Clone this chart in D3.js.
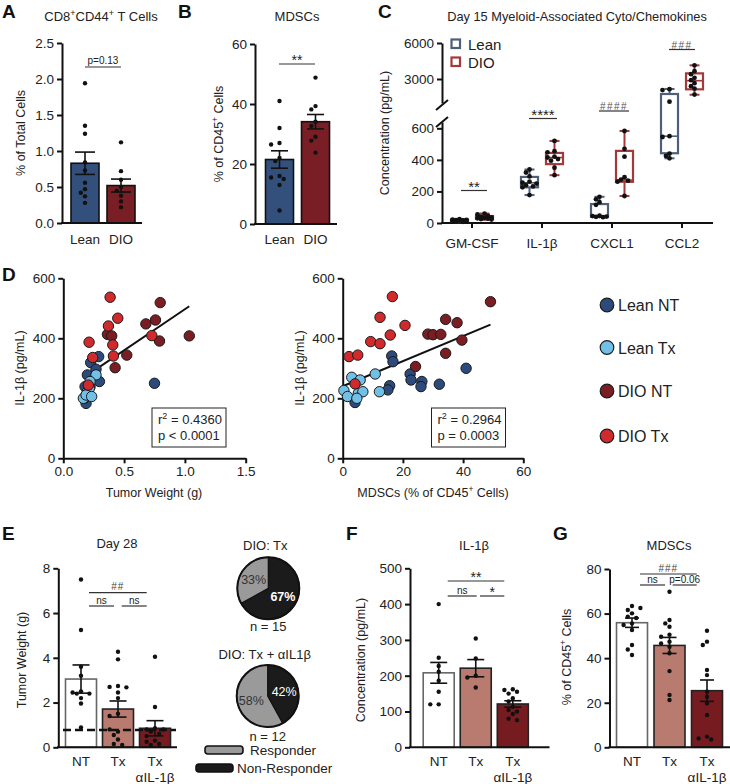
<!DOCTYPE html>
<html><head><meta charset="utf-8">
<script src="https://cdn.jsdelivr.net/npm/d3@7"></script>
<style>
body{margin:0;background:#fff}
svg{font-family:Arial,"Liberation Sans",Helvetica,sans-serif}
</style></head><body>
<svg id="fig" width="730" height="784"></svg>
<script>
// ---------------- DATA ----------------
const groupsAB = ["Lean", "DIO"];
const cd8Lean = [1.94, 1.35, 1.24, 0.84, 0.73, 0.56, 0.47, 0.42, 0.37, 0.28];
const cd8DIO = [1.12, 0.72, 0.6, 0.5, 0.45, 0.38, 0.3, 0.22];
const cd8Means = [0.83, 0.52];
const cd8Sem = [0.155, 0.09];
const mdscLean = [41, 32, 27, 26.5, 22, 21, 16, 15.5, 15, 13, 4.5];
const mdscDIO = [48.8, 39.3, 38.2, 34.1, 32.7, 29.1, 27.8, 23.8];
const mdscMeans = [21.5, 34.1];
const mdscSem = [2.9, 2.4];

const cytoCategories = ["GM-CSF", "IL-1β", "CXCL1", "CCL2"];
// box stats: [min, q1, median, q3, max]
const cytoLeanBox = [[5, 12, 16, 21, 25], [177, 226, 255, 292, 339], [37, 40, 43, 120, 166], [410, 442, 550, 1750, 2170]];
const cytoDIOBox = [[20, 27, 34, 44, 60], [303, 373, 415, 444, 520], [171, 261, 272, 457, 583], [1690, 2140, 2860, 3470, 4140]];
const cytoLeanPts = [
  [24, 22, 20, 18, 16, 15, 13, 12, 10, 8],
  [339, 320, 295, 262, 255, 250, 240, 232, 226, 177],
  [166, 150, 132, 115, 46, 44, 41, 39, 37],
  [2150, 2080, 1110, 550, 545, 440, 425, 410]];
const cytoDIOPts = [
  [60, 55, 45, 40, 36, 33, 30, 28, 25, 22],
  [520, 455, 448, 420, 415, 405, 395, 350, 303],
  [583, 470, 420, 290, 275, 268, 262, 171],
  [4140, 3650, 3400, 3100, 2900, 2650, 2400, 2200, 1700]];
const cytoSig = ["**", "****", "####", "###"];
const cytoLowerTicks = [0, 200, 400, 600];
const cytoUpperTicks = [3000, 6000];

// Panel D: [tumor weight (g), IL-1β (pg/mL)]
const twLeanNT = [[0.75, 250], [0.291, 339], [0.225, 319], [0.269, 297], [0.297, 256], [0.198, 278], [0.179, 239], [0.187, 183], [0.173, 200], [0.22, 239]];
const twLeanTx = [[0.269, 278], [0.22, 256], [0.198, 222], [0.165, 200], [0.214, 233], [0.187, 211], [0.233, 206]];
const twDIONT = [[0.797, 519], [1.036, 408], [0.679, 448], [0.758, 461], [0.791, 391], [0.363, 413], [0.398, 408], [0.522, 344], [0.426, 302]];
const twDIOTx = [[0.385, 537], [0.448, 467], [0.371, 441], [0.212, 387], [0.407, 378], [0.412, 341], [0.242, 336], [0.728, 409], [0.206, 244]];
// Panel D right: [MDSCs (% of CD45+), IL-1β (pg/mL)]
const mdLeanNT = [[16.3, 341], [16.7, 322], [41.0, 300], [22.4, 281], [22.7, 261], [26.3, 256], [26.0, 239], [32.1, 247], [15.6, 242], [15.0, 228], [4.1, 186]];
const mdLeanTx = [[10.8, 281], [3.0, 270], [5.8, 261], [0.4, 226], [1.6, 206], [5.2, 217], [6.7, 222], [4.7, 200], [12.2, 222]];
const mdDIONT = [[49.1, 522], [34.2, 463], [38.0, 452], [28.3, 414], [30.0, 412], [32.6, 413], [39.6, 394], [34.2, 350], [24.2, 306]];
const mdDIOTx = [[16.5, 539], [12.4, 470], [20.7, 443], [15.8, 411], [9.3, 389], [12.4, 382], [2.1, 339], [5.0, 344], [4.1, 248]];
const fitLeft = [223, 274];   // intercept, slope
const fitRight = [240, 4.19];
const statsLeft = ["0.4360", "p < 0.0001"];
const statsRight = ["0.2964", "p = 0.0003"];
const scatterGroups = ["Lean NT", "Lean Tx", "DIO NT", "DIO Tx"];

// Panel E/F/G
const treatGroups = ["NT", "Tx", "TxIL"];
const tumorNT = [7.5, 5.24, 3.6, 3.2, 2.5, 2.45, 2.4, 2.4, 2.2, 1.96, 0.89];
const tumorTx = [4.27, 3.93, 2.74, 2.7, 2.68, 2.45, 2.2, 1.5, 1.4, 0.7, 0.8, 0.55, 0.35, 0.15, 0.1];
const tumorTxIL = [4.05, 1.8, 0.85, 0.8, 0.8, 0.7, 0.6, 0.5, 0.3, 0.25, 0.15, 0.1];
const tumorMeans = [3.05, 1.71, 0.85];
const tumorSem = [0.63, 0.36, 0.34];
const responderCutoff = 0.77;
const il1bNT = [400, 250, 227, 211, 186, 155, 120, 120];
const il1bTx = [304, 248, 200, 195, 167];
const il1bTxIL = [162, 160, 155, 150, 137, 128, 113, 104, 100, 93, 80, 76];
const il1bMeans = [208, 221, 121];
const il1bSem = [29, 24, 9];
const gNT = [63.4, 61.6, 60.1, 58.6, 58.0, 55.6, 54.9, 52.6, 45.9, 43.9, 41.4, 62.5];
const gTx = [69.8, 57.1, 55.6, 54.1, 50.5, 49.6, 47.4, 46.6, 45.1, 42.2, 34.2, 23.5, 21.2];
const gTxIL = [52.3, 47.4, 45.9, 34.7, 32.4, 25, 22.7, 19.7, 14.5, 4.8, 4.0, 3.5];
const gMeans = [55.9, 45.7, 25.4];
const gSem = [2.1, 3.6, 4.8];
// pies: [Non-Responder, Responder]
const pieTx = [67, 33];
const pieTxIL = [42, 58];
const pieN = [15, 12];

// ---------------- DRAW ----------------
const svg = d3.select("#fig");
const FONT = 'Arial,"Liberation Sans",Helvetica,sans-serif';
const TXT = "#222";

function yAxis(scale, x, ticks, fmt, size = 13.5) {
  const g = svg.append("g").attr("transform", `translate(${x},0)`)
    .call(d3.axisLeft(scale).tickValues(ticks).tickFormat(fmt).tickSize(5).tickSizeOuter(0).tickPadding(3));
  g.attr("font-family", FONT).attr("font-size", size);
  g.select(".domain").attr("stroke-width", 2).attr("stroke", "#111");
  g.selectAll(".tick line").attr("stroke-width", 2).attr("stroke", "#111");
  g.selectAll(".tick text").attr("fill", TXT);
  return g;
}
function xLine(x0, x1, y) {
  svg.append("line").attr("x1", x0).attr("x2", x1).attr("y1", y).attr("y2", y).attr("stroke", "#111").attr("stroke-width", 2);
}
function xTicks(xs, y) {
  xs.forEach(x => svg.append("line").attr("x1", x).attr("x2", x).attr("y1", y).attr("y2", y + 5).attr("stroke", "#111").attr("stroke-width", 2));
}
function text(x, y, s, opt = {}) {
  const t = svg.append("text").attr("x", x).attr("y", y).text(s)
    .attr("font-size", opt.size || 13).attr("fill", opt.fill || TXT)
    .attr("text-anchor", opt.anchor || "middle").attr("font-family", FONT);
  if (opt.bold) t.attr("font-weight", "bold");
  if (opt.rotate) t.attr("transform", `rotate(-90,${x},${y})`);
  if (opt.ls) t.attr("letter-spacing", opt.ls);
  return t;
}
function panelLetter(x, y, s) { text(x, y, s, { size: 19, bold: true, anchor: "start", fill: "#111" }); }
function sigLine(x0, x1, y, label, size = 10.5, dy = -3, opts = {}) {
  svg.append("line").attr("x1", x0).attr("x2", x1).attr("y1", y).attr("y2", y).attr("stroke", "#333").attr("stroke-width", 1.2);
  text((x0 + x1) / 2, y + dy, label, Object.assign({ size }, opts));
}
// simple beeswarm: horizontal offsets for overlapping dots, limited to maxOff
function swarm(vals, yScale, cx, r, step, maxOff, sep) {
  const placed = [];
  const offs = [0];
  for (let k = 1; k * step <= maxOff + 0.01; k++) { offs.push(-k * step, k * step); }
  return vals.map(v => {
    const py = yScale(v);
    let best = offs[0], bestScore = Infinity;
    for (const off of offs) {
      const dmin = d3.min(placed, p => Math.hypot(p[0] - (cx + off), p[1] - py));
      if (dmin === undefined || dmin >= sep) { best = off; bestScore = -1; break; }
      if (-dmin < bestScore) { bestScore = -dmin; best = off; }
    }
    placed.push([cx + best, py]);
    return [cx + best, py];
  });
}
function barGroup(cx, w, yScale, mean, sem, pts, fill, stroke, cap) {
  const y0 = yScale(0);
  svg.append("rect").attr("x", cx - w / 2).attr("y", yScale(mean)).attr("width", w).attr("height", y0 - yScale(mean))
    .attr("fill", fill).attr("stroke", stroke).attr("stroke-width", 1.6);
  swarm(pts, yScale, cx, 2.2, 4.2, 12.6, 4.8).forEach(p => svg.append("circle").attr("cx", p[0]).attr("cy", p[1]).attr("r", 2.2).attr("fill", "#111"));
  const eb = svg.append("g").attr("stroke", "#111").attr("stroke-width", 1.6);
  eb.append("line").attr("x1", cx).attr("x2", cx).attr("y1", yScale(mean + sem)).attr("y2", yScale(mean - sem));
  [mean + sem, mean - sem].forEach(v => eb.append("line").attr("x1", cx - cap / 2).attr("x2", cx + cap / 2).attr("y1", yScale(v)).attr("y2", yScale(v)));
}

// ===== Panel A =====
panelLetter(2, 18, "A");
const tA = text(101, 21, "", { size: 13 });
tA.append("tspan").text("CD8");
tA.append("tspan").text("+").attr("font-size", 9).attr("dy", -5);
tA.append("tspan").text("CD44").attr("dy", 5);
tA.append("tspan").text("+").attr("font-size", 9).attr("dy", -5);
tA.append("tspan").text(" T Cells").attr("dy", 5);
const yA = d3.scaleLinear([0, 2.5], [223, 43]);
const xA = d3.scalePoint(groupsAB, [85, 121]);
yAxis(yA, 62, [0, 0.5, 1, 1.5, 2, 2.5], d3.format(".1f"));
barGroup(xA("Lean"), 28, yA, cd8Means[0], cd8Sem[0], cd8Lean, "#33507c", "#111", 20);
barGroup(xA("DIO"), 28, yA, cd8Means[1], cd8Sem[1], cd8DIO, "#7a1e25", "#111", 20);
xLine(61, 142, 223);
groupsAB.forEach(g => text(xA(g), 244, g, { size: 13.5 }));
text(25, 133, "% of Total Cells", { size: 12.5, rotate: true });
sigLine(85, 121, 67, "p=0.13", 10);

// ===== Panel B =====
panelLetter(178, 18, "B");
text(297, 21, "MDSCs", { size: 13 });
const yB = d3.scaleLinear([0, 60], [224, 44]);
const xB = d3.scalePoint(groupsAB, [279.5, 315.5]);
yAxis(yB, 255, [0, 20, 40, 60], d3.format("d"));
barGroup(xB("Lean"), 28, yB, mdscMeans[0], mdscSem[0], mdscLean, "#33507c", "#111", 17);
barGroup(xB("DIO"), 28, yB, mdscMeans[1], mdscSem[1], mdscDIO, "#7a1e25", "#111", 17);
xLine(254, 337, 224);
groupsAB.forEach(g => text(xB(g), 244, g, { size: 13.5 }));
const tB = text(223, 134, "", { size: 12.5, rotate: true });
tB.append("tspan").text("% of CD45");
tB.append("tspan").text("+").attr("font-size", 8.5).attr("dy", -5);
tB.append("tspan").text(" Cells").attr("dy", 5);
sigLine(279, 315, 64, "**", 14, 1);

// ===== Panel C =====
panelLetter(378, 18, "C");
text(577, 21, "Day 15 Myeloid-Associated Cyto/Chemokines", { size: 12.8 });
const yCl = d3.scaleLinear([0, 640], [223, 122]);
const yCu = d3.scaleLinear([1000, 6000], [103, 43]);
const yCgap = d3.scaleLinear([640, 1000], [122, 103]);
const yC = v => v <= 640 ? yCl(v) : (v >= 1000 ? yCu(v) : yCgap(v));
const xC = d3.scalePoint(cytoCategories, [472, 682]);
yAxis(yCl, 442, cytoLowerTicks, d3.format("d"));
yAxis(yCu, 442, cytoUpperTicks, d3.format("d"));
// axis break marks
svg.append("line").attr("x1", 436).attr("y1", 110).attr("x2", 448).attr("y2", 100).attr("stroke", "#111").attr("stroke-width", 2);
svg.append("line").attr("x1", 436).attr("y1", 127).attr("x2", 448).attr("y2", 117).attr("stroke", "#111").attr("stroke-width", 2);
xLine(441, 713, 223);
xTicks(cytoCategories.map(c => xC(c)), 223);
cytoCategories.forEach(c => text(xC(c), 248, c, { size: 13.5 }));
text(389, 133, "Concentration (pg/mL)", { size: 12.5, rotate: true });
function cbox(cx, st, pts, color) {
  const w = 17, g = svg.append("g");
  g.append("line").attr("x1", cx).attr("x2", cx).attr("y1", yC(st[0])).attr("y2", yC(st[4])).attr("stroke", color).attr("stroke-width", 2);
  [st[0], st[4]].forEach(v => g.append("line").attr("x1", cx - 5).attr("x2", cx + 5).attr("y1", yC(v)).attr("y2", yC(v)).attr("stroke", color).attr("stroke-width", 2));
  g.append("rect").attr("x", cx - w / 2).attr("y", yC(st[3])).attr("width", w).attr("height", Math.max(1, yC(st[1]) - yC(st[3])))
    .attr("fill", "#fff").attr("stroke", color).attr("stroke-width", 2.2);
  g.append("line").attr("x1", cx - w / 2).attr("x2", cx + w / 2).attr("y1", yC(st[2])).attr("y2", yC(st[2])).attr("stroke", color).attr("stroke-width", 1.6);
  swarm(pts, yC, cx, 2.4, 3.5, 7, 4).forEach(p => g.append("circle").attr("cx", p[0]).attr("cy", p[1]).attr("r", 2.4).attr("fill", "#111"));
}
cytoCategories.forEach((c, i) => {
  cbox(xC(c) - 12.5, cytoLeanBox[i], cytoLeanPts[i], "#4f5f78");
  cbox(xC(c) + 12.5, cytoDIOBox[i], cytoDIOPts[i], "#a3393a");
});
sigLine(461, 487, 190.5, cytoSig[0], 15, 1);
sigLine(529, 557, 118.5, cytoSig[1], 15, 1);
sigLine(599, 629, 111, cytoSig[2], 10, -1, { ls: 1.5, fill: "#555" });
sigLine(669, 695, 49.5, cytoSig[3], 10, -1, { ls: 1.5, fill: "#555" });
// legend
[["Lean", "#4f5f78", 44], ["DIO", "#a3393a", 62]].forEach(d => {
  svg.append("rect").attr("x", 451.5).attr("y", d[2] - 4.5).attr("width", 8.5).attr("height", 8.5).attr("fill", "#fff").attr("stroke", d[1]).attr("stroke-width", 2.2);
  text(468, d[2] + 5.5, d[0], { size: 15, anchor: "start" });
});

// ===== Panel D =====
panelLetter(2, 281, "D");
const scatterColors = ["#2d4a7d", "#72c0e8", "#7b1e24", "#d22a2c"];
function scatterPanel(xs, ys, xAxisX, xTickVals, xFmt, sets, fit, stats, boxX) {
  yAxis(ys, xAxisX, [0, 200, 400, 600], d3.format("d"));
  const gx = svg.append("g").attr("transform", "translate(0,458.3)")
    .call(d3.axisBottom(xs).tickValues(xTickVals).tickFormat(xFmt).tickSize(5).tickSizeOuter(0).tickPadding(3));
  gx.attr("font-family", FONT).attr("font-size", 13.5);
  gx.select(".domain").attr("stroke-width", 2).attr("stroke", "#111");
  gx.selectAll(".tick line").attr("stroke-width", 2).attr("stroke", "#111");
  gx.selectAll(".tick text").attr("fill", TXT);
  const all = sets.flat();
  const xmin = d3.min(all, d => d[0]), xmax = d3.max(all, d => d[0]);
  svg.append("line").attr("x1", xs(xmin)).attr("x2", xs(xmax)).attr("y1", ys(fit[0] + fit[1] * xmin)).attr("y2", ys(fit[0] + fit[1] * xmax))
    .attr("stroke", "#111").attr("stroke-width", 2);
  sets.forEach((s, i) => s.forEach(d => svg.append("circle").attr("cx", xs(d[0])).attr("cy", ys(d[1])).attr("r", 5.2)
    .attr("fill", scatterColors[i]).attr("stroke", "#1a1a1a").attr("stroke-width", 1)));
  svg.append("rect").attr("x", boxX).attr("y", 408).attr("width", 74).attr("height", 39).attr("fill", "#fff").attr("stroke", "#222").attr("stroke-width", 1);
  const t = text(boxX + 6, 424, "", { size: 13, anchor: "start" });
  t.append("tspan").text("r");
  t.append("tspan").text("2").attr("font-size", 9).attr("dy", -5);
  t.append("tspan").text(" = " + stats[0]).attr("dy", 5);
  text(boxX + 6, 440, stats[1], { size: 13, anchor: "start" });
}
const xDl = d3.scaleLinear([0, 1.5], [63.3, 245.7]);
const yD = d3.scaleLinear([0, 600], [458.3, 278.3]);
scatterPanel(xDl, yD, 63.3, [0, 0.5, 1, 1.5], d3.format(".1f"), [twLeanNT, twLeanTx, twDIONT, twDIOTx], fitLeft, statsLeft, 152);
text(154, 497, "Tumor Weight (g)", { size: 12.5 });
text(24, 368, "IL-1β (pg/mL)", { size: 12.5, rotate: true });
const xDr = d3.scaleLinear([0, 60], [342.7, 523.3]);
scatterPanel(xDr, yD, 342.7, [0, 20, 40, 60], d3.format("d"), [mdLeanNT, mdLeanTx, mdDIONT, mdDIOTx], fitRight, statsRight, 431.5);
const tDr = text(433, 497, "", { size: 12.5 });
tDr.append("tspan").text("MDSCs (% of CD45");
tDr.append("tspan").text("+").attr("font-size", 8.5).attr("dy", -5);
tDr.append("tspan").text(" Cells)").attr("dy", 5);
text(304, 368, "IL-1β (pg/mL)", { size: 12.5, rotate: true });
// legend
scatterGroups.forEach((g, i) => {
  const y = [305, 347.5, 391, 436][i];
  svg.append("circle").attr("cx", 607).attr("cy", y).attr("r", 6.8).attr("fill", scatterColors[i]).attr("stroke", "#1a1a1a").attr("stroke-width", 1.2);
  text(618, y + 6, g, { size: 16, anchor: "start" });
});

// ===== Panel E =====
panelLetter(2, 540, "E");
text(117, 548, "Day 28", { size: 13 });
const yE = d3.scaleLinear([0, 8], [747.3, 568.3]);
const xT = (r0, r1) => d3.scalePoint(treatGroups, [r0, r1]);
const xE = xT(81, 155);
yAxis(yE, 58.3, [0, 2, 4, 6, 8], d3.format("d"));
const barFills = ["#ffffff", "#b97b70", "#761c21"];
const barStrokes = ["#666", "#222", "#222"];
[tumorNT, tumorTx, tumorTxIL].forEach((pts, i) => barGroup(xE(treatGroups[i]), 31, yE, tumorMeans[i], tumorSem[i], pts, barFills[i], barStrokes[i], 17));
svg.append("line").attr("x1", 63).attr("x2", 176).attr("y1", yE(responderCutoff)).attr("y2", yE(responderCutoff))
  .attr("stroke", "#111").attr("stroke-width", 2.6).attr("stroke-dasharray", "8,4");
xLine(57, 177, 747.3);
function treatLabels(xs) {
  text(xs("NT"), 766, "NT", { size: 13.5 });
  text(xs("Tx"), 766, "Tx", { size: 13.5 });
  text(xs("TxIL"), 766, "Tx", { size: 13.5 });
  text(xs("TxIL"), 782, "αIL-1β", { size: 13.5 });
}
treatLabels(xE);
text(26, 660, "Tumor Weight (g)", { size: 12.5, rotate: true });
sigLine(89, 146.7, 592.7, "##", 10, -2.5, { ls: 1, fill: "#444" });
sigLine(89, 114, 606, "ns", 10, -2.5);
sigLine(121.7, 146.7, 606, "ns", 10, -2.5);

// ===== Pies =====
const pieColors = ["#1b1b1b", "#9a9a9a"];
function drawPie(cx, cy, vals, title, n, yTitle, yN) {
  const r = 31;
  const arcs = d3.pie().sort(null)(vals);
  const arc = d3.arc().innerRadius(0).outerRadius(r);
  const lab = d3.arc().innerRadius(17).outerRadius(17);
  const g = svg.append("g").attr("transform", `translate(${cx},${cy})`);
  arcs.forEach((a, i) => g.append("path").attr("d", arc(a)).attr("fill", pieColors[i]).attr("stroke", "#111").attr("stroke-width", 1.2));
  g.append("circle").attr("r", r).attr("fill", "none").attr("stroke", "#111").attr("stroke-width", 2);
  arcs.forEach((a, i) => {
    const c = lab.centroid(a);
    g.append("text").attr("x", c[0]).attr("y", c[1] + 4.5).attr("text-anchor", "middle").attr("font-family", FONT)
      .attr("font-size", 12.5).attr("font-weight", i === 0 && vals[0] > 50 ? "bold" : "normal")
      .attr("fill", i === 0 ? "#fff" : "#333").text(vals[i] + "%");
  });
  text(cx - 3, yTitle, title, { size: 13 });
  text(cx, yN, "n = " + n, { size: 13 });
}
drawPie(268.3, 588.3, pieTx, "DIO: Tx", pieN[0], 549.5, 631);
drawPie(267.7, 696, pieTxIL, "DIO: Tx + αIL1β", pieN[1], 658.5, 740.5);
// pie legend
[["Responder", 1, 750, 205, 243, 250], ["Non-Responder", 0, 768, 196, 233, 237]].forEach(d => {
  svg.append("rect").attr("x", d[3]).attr("y", d[2] - 4).attr("width", d[4] - d[3]).attr("height", 8).attr("rx", 3)
    .attr("fill", pieColors[d[1]]).attr("stroke", "#111").attr("stroke-width", 1.6);
  text(d[5], d[2] + 5, d[0], { size: 13.5, anchor: "start" });
});

// ===== Panel F =====
panelLetter(346, 540, "F");
text(474, 550, "IL-1β", { size: 13 });
const yF = d3.scaleLinear([0, 500], [747.3, 568.3]);
const xF = xT(438.7, 512.8);
yAxis(yF, 410, [0, 100, 200, 300, 400, 500], d3.format("d"));
[il1bNT, il1bTx, il1bTxIL].forEach((pts, i) => barGroup(xF(treatGroups[i]), 31, yF, il1bMeans[i], il1bSem[i], pts, barFills[i], barStrokes[i], 17));
xLine(409, 549.5, 747.3);
treatLabels(xF);
text(365, 660, "Concentration (pg/mL)", { size: 12.5, rotate: true });
sigLine(447.7, 504.3, 581, "**", 14, 1);
sigLine(447.7, 476.7, 596, "ns", 10, -2.5);
sigLine(480, 504.3, 596, "*", 14, 1);

// ===== Panel G =====
panelLetter(553, 540, "G");
text(669, 550, "MDSCs", { size: 13 });
const yG = d3.scaleLinear([0, 80], [747.3, 569]);
const xG = xT(632, 707);
yAxis(yG, 609.5, [0, 20, 40, 60, 80], d3.format("d"));
[gNT, gTx, gTxIL].forEach((pts, i) => barGroup(xG(treatGroups[i]), 31, yG, gMeans[i], gSem[i], pts, barFills[i], barStrokes[i], 14));
xLine(608.5, 730, 747.3);
treatLabels(xG);
const tG = text(571, 657, "", { size: 12.5, rotate: true });
tG.append("tspan").text("% of CD45");
tG.append("tspan").text("+").attr("font-size", 8.5).attr("dy", -5);
tG.append("tspan").text(" Cells").attr("dy", 5);
sigLine(640, 696.7, 574, "###", 10, -2.5, { ls: 1, fill: "#444" });
sigLine(640, 665, 585, "ns", 10, -2.5);
sigLine(672.7, 696.7, 585, "p=0.06", 10, -2.5);
</script>
</body></html>
